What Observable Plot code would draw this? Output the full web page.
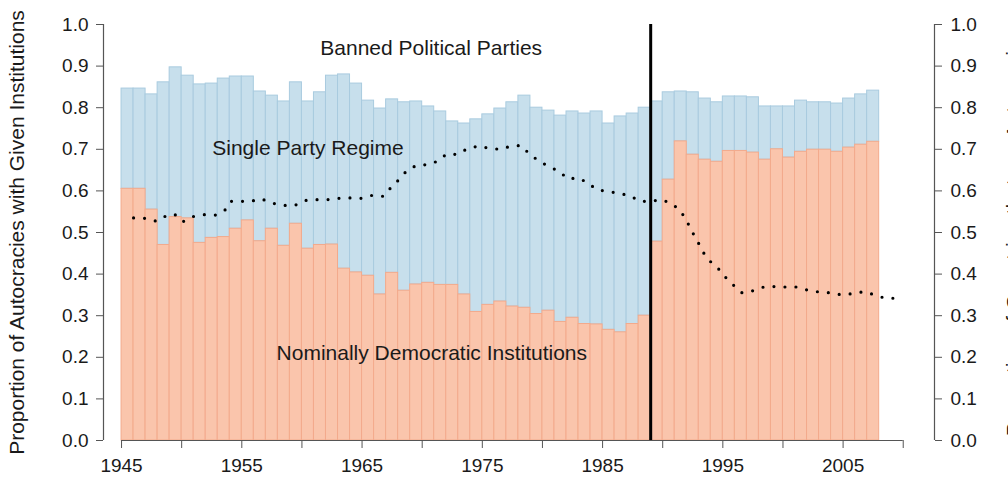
<!DOCTYPE html>
<html>
<head>
<meta charset="utf-8">
<script src="https://cdn.jsdelivr.net/npm/d3@7"></script>
<script src="https://cdn.jsdelivr.net/npm/@observablehq/plot@0.6"></script>
<style>
  html, body { margin: 0; padding: 0; background: white; }
  svg { display: block; }
</style>
</head>
<body>
<div id="chart"></div>
<script>
// Years (each bar spans year .. year+1)
const years = d3.range(1945, 2008);

// Share of autocracies with nominally democratic institutions (orange, bottom)
const nominalDem = [
  0.605, 0.605, 0.555, 0.470, 0.537, 0.534, 0.475, 0.487, 0.489, 0.509,
  0.529, 0.479, 0.509, 0.468, 0.521, 0.461, 0.470, 0.471, 0.413, 0.404,
  0.396, 0.351, 0.403, 0.360, 0.375, 0.379, 0.374, 0.374, 0.351, 0.309,
  0.326, 0.334, 0.322, 0.319, 0.304, 0.312, 0.285, 0.295, 0.280, 0.279,
  0.266, 0.260, 0.280, 0.300, 0.478, 0.627, 0.719, 0.687, 0.675, 0.670,
  0.696, 0.696, 0.692, 0.675, 0.700, 0.680, 0.694, 0.699, 0.699, 0.694,
  0.704, 0.711, 0.718
];

// Share of autocracies where parties are not banned (top of blue band)
const partiesAllowed = [
  0.846, 0.846, 0.832, 0.861, 0.897, 0.877, 0.856, 0.858, 0.870, 0.875,
  0.875, 0.839, 0.829, 0.815, 0.861, 0.815, 0.837, 0.877, 0.880, 0.858,
  0.817, 0.798, 0.820, 0.813, 0.815, 0.803, 0.791, 0.767, 0.762, 0.772,
  0.784, 0.798, 0.813, 0.829, 0.800, 0.793, 0.781, 0.791, 0.786, 0.791,
  0.762, 0.779, 0.786, 0.800, 0.815, 0.837, 0.839, 0.837, 0.822, 0.813,
  0.827, 0.827, 0.825, 0.803, 0.803, 0.803, 0.817, 0.813, 0.813, 0.810,
  0.822, 0.832, 0.841
];

// Dotted series (right axis): proportion of countries that are autocracies
const lineYears = [
  1946.0, 1947.0, 1947.9, 1948.7, 1949.4, 1950.1, 1950.9, 1951.9, 1952.8, 1953.6,
  1954.1, 1954.9, 1955.75, 1956.6, 1957.5, 1958.4, 1959.4, 1960.3, 1961.2, 1962.1,
  1963.0, 1964.0, 1964.9, 1965.8, 1966.8, 1967.4, 1968.1, 1968.7, 1969.5, 1970.4,
  1971.25, 1972.0, 1972.9, 1973.8, 1974.7, 1975.6, 1976.5, 1977.4, 1978.25, 1978.9,
  1979.7, 1980.5, 1981.4, 1982.1, 1983.0, 1983.8, 1984.5, 1985.4, 1986.4, 1987.3,
  1988.1, 1989.0, 1989.9, 1990.8, 1991.5, 1992.0, 1992.4, 1992.9, 1993.3, 1993.9,
  1994.6, 1995.2, 1995.9, 1996.6, 1997.4, 1998.4, 1999.3, 2000.2, 2001.1, 2002.1,
  2003.0, 2003.9, 2004.9, 2005.8, 2006.75, 2007.6, 2008.5, 2009.4
];
const lineValues = [
  0.535, 0.534, 0.527, 0.540, 0.544, 0.526, 0.538, 0.543, 0.542, 0.554,
  0.575, 0.575, 0.575, 0.581, 0.571, 0.565, 0.565, 0.577, 0.579, 0.579,
  0.582, 0.583, 0.582, 0.589, 0.587, 0.608, 0.628, 0.648, 0.661, 0.663,
  0.671, 0.688, 0.688, 0.702, 0.708, 0.702, 0.700, 0.708, 0.709, 0.689,
  0.672, 0.659, 0.647, 0.629, 0.631, 0.619, 0.603, 0.599, 0.594, 0.588,
  0.575, 0.575, 0.579, 0.569, 0.551, 0.528, 0.504, 0.479, 0.455, 0.432,
  0.414, 0.393, 0.373, 0.355, 0.359, 0.369, 0.370, 0.369, 0.369, 0.361,
  0.357, 0.355, 0.350, 0.353, 0.358, 0.350, 0.342, 0.342
];

const xTicks = d3.range(1945, 2011, 5);
const xLabels = [1945, 1955, 1965, 1975, 1985, 1995, 2005];
const yTicks = [0, 0.1, 0.2, 0.3, 0.4, 0.5, 0.6, 0.7, 0.8, 0.9, 1.0];
const breakYear = 1989;

const labelBanned = "Banned Political Parties";
const labelSingle = "Single Party Regime";
const labelNominal = "Nominally Democratic Institutions";
const yTitleLeft = "Proportion of Autocracies with Given Institutions";
const yTitleRight = "Proportion of Countries that are Autocracies";

const bars = years.map((y, i) => ({year: y, nominal: nominalDem[i], allowed: partiesAllowed[i]}));
const line = lineYears.map((y, i) => ({x: y, v: lineValues[i]}));

const axisCol = "#555";
const textCol = "#1a1a1a";

const chart = Plot.plot({
  width: 1008,
  height: 478,
  marginLeft: 103,
  marginRight: 74,
  marginTop: 24,
  marginBottom: 38,
  style: {fontFamily: "'Liberation Sans', Arial, Helvetica, sans-serif", background: "white", color: textCol},
  x: {domain: [1943.5, 2012.6]},
  y: {domain: [0, 1]},
  marks: [
    // blue band: single party regime
    Plot.rect(bars, {x1: "year", x2: d => d.year + 1, y1: "nominal", y2: "allowed",
      fill: "#C7DFEC", stroke: "#A9CBDF", strokeWidth: 1}),
    // orange band: nominally democratic institutions
    Plot.rect(bars, {x1: "year", x2: d => d.year + 1, y1: 0, y2: "nominal",
      fill: "#FAC5AC", stroke: "#F3AA8C", strokeWidth: 1}),
    // dotted line
    Plot.line(line, {x: "x", y: "v", stroke: "black", strokeWidth: 3.2,
      strokeDasharray: "0,11", strokeLinecap: "round", curve: "linear"}),
    // break line at 1989
    Plot.ruleX([breakYear], {y1: 0, y2: 1, stroke: "black", strokeWidth: 3}),
    // x axis
    Plot.ruleY([0], {x1: 1945, x2: 2010, stroke: axisCol, strokeWidth: 1.2}),
    Plot.axisX({ticks: xTicks, tickSize: 8, tickPadding: 10, stroke: axisCol,
      tickFormat: d => xLabels.includes(d) ? String(d) : "", fontSize: 19, label: null}),
    // left y axis
    Plot.ruleX([1943.5], {y1: 0, y2: 1, stroke: axisCol, strokeWidth: 1.2}),
    Plot.axisY({anchor: "left", ticks: yTicks, tickSize: 7, tickPadding: 8, stroke: axisCol,
      tickFormat: d3.format(".1f"), fontSize: 19, label: null}),
    // right y axis
    Plot.ruleX([2012.6], {y1: 0, y2: 1, stroke: axisCol, strokeWidth: 1.2}),
    Plot.axisY({anchor: "right", ticks: yTicks, tickSize: 7, tickPadding: 9, stroke: axisCol,
      tickFormat: d3.format(".1f"), fontSize: 19, label: null}),
    // axis titles
    Plot.text([yTitleLeft], {frameAnchor: "left", dx: -86, rotate: -90, fontSize: 21,
      textAnchor: "middle", lineAnchor: "middle", fill: textCol}),
    Plot.text([yTitleRight], {frameAnchor: "right", dx: 80, rotate: -90, fontSize: 21,
      textAnchor: "middle", lineAnchor: "middle", fill: textCol}),
    // region annotations
    Plot.text([labelBanned], {x: 1970.75, y: 0.942, fontSize: 21, fill: textCol}),
    Plot.text([labelSingle], {x: 1960.5, y: 0.702, fontSize: 21, fill: textCol}),
    Plot.text([labelNominal], {x: 1970.8, y: 0.209, fontSize: 21, fill: textCol})
  ]
});
document.getElementById("chart").appendChild(chart);
</script>
</body>
</html>
